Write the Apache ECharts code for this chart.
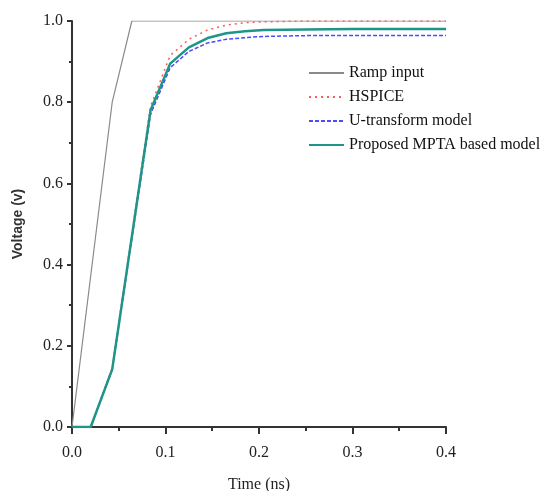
<!DOCTYPE html>
<html>
<head>
<meta charset="utf-8">
<script src="https://cdn.jsdelivr.net/npm/echarts@6/dist/echarts.min.js"></script>
<style>html,body{margin:0;padding:0;background:#fff}#c{width:541px;height:491px}</style>
</head>
<body>
<div id="c"></div>
<script>
var timeNs = [0, 0.02, 0.043, 0.084, 0.105, 0.125, 0.145, 0.165, 0.185, 0.205, 0.25, 0.3, 0.35, 0.4];
var rampTime = [0, 0.043, 0.064, 0.4];
var rampInput = [0, 0.8, 1.0, 1.0];
var hspice = [0, 0, 0.145, 0.79, 0.915, 0.955, 0.978, 0.99, 0.996, 0.998, 1.0, 1.0, 1.0, 1.0];
var uTransform = [0, 0, 0.142, 0.77, 0.885, 0.925, 0.946, 0.955, 0.959, 0.962, 0.964, 0.964, 0.964, 0.964];
var proposed = [0, 0, 0.142, 0.78, 0.895, 0.935, 0.958, 0.970, 0.975, 0.978, 0.979, 0.98, 0.98, 0.98];
var seriesNames = ['Ramp input', 'HSPICE', 'U-transform model', 'Proposed MPTA based model'];

function pairs(xs, ys) { return xs.map(function (x, i) { return [x, ys[i]]; }); }

var chart = echarts.init(document.getElementById('c'), null, { renderer: 'canvas' });
var axisLine = { show: true, lineStyle: { color: '#333', width: 2 } };
var serif = '"Liberation Serif", "Times New Roman", serif';
chart.setOption({
  animation: false,
  backgroundColor: '#fff',
  grid: { left: 72, right: 95, top: 21, bottom: 64, containLabel: false, outerBoundsMode: 'none' },
  legend: {
    orient: 'vertical', left: 303, top: 60, itemWidth: 35, itemHeight: 14, itemGap: 8,
    itemStyle: { opacity: 0 },
    textStyle: { fontFamily: serif, fontSize: 16, lineHeight: 14, color: '#111' },
    data: seriesNames
  },
  xAxis: {
    type: 'value', min: 0, max: 0.4, interval: 0.1,
    name: 'Time (ns)', nameLocation: 'middle', nameGap: 50,
    nameTextStyle: { fontFamily: serif, fontSize: 16, color: '#222', verticalAlign: 'top' },
    axisLine: axisLine,
    axisTick: { show: true, inside: false, length: 7, lineStyle: { color: '#333', width: 2 } },
    minorTick: { show: true, splitNumber: 2, length: 4, lineStyle: { color: '#333', width: 2 } },
    splitLine: { show: false },
    axisLabel: { fontFamily: serif, fontSize: 16, color: '#222', margin: 18, formatter: function (v) { return v.toFixed(1); } }
  },
  yAxis: {
    type: 'value', min: 0, max: 1, interval: 0.2,
    name: 'Voltage (v)', nameLocation: 'middle', nameGap: 47,
    nameTextStyle: { fontFamily: '"Liberation Sans", Arial, sans-serif', fontSize: 14, fontWeight: 'bold', color: '#333' },
    axisLine: axisLine,
    axisTick: { show: true, inside: false, length: 5, lineStyle: { color: '#333', width: 2 } },
    minorTick: { show: true, splitNumber: 2, length: 3, lineStyle: { color: '#333', width: 2 } },
    splitLine: { show: false },
    axisLabel: { fontFamily: serif, fontSize: 16, color: '#222', margin: 9, formatter: function (v) { return v.toFixed(1); } }
  },
  series: [
    { name: seriesNames[0], type: 'line', symbol: 'none', data: pairs(rampTime, rampInput),
      lineStyle: { color: '#8a8a8a', width: 1.2 }, itemStyle: { color: '#8a8a8a' }, z: 1 },
    { name: seriesNames[1], type: 'line', symbol: 'none', data: pairs(timeNs, hspice),
      lineStyle: { color: '#ff5a5a', width: 1.5, type: [2, 4] }, itemStyle: { color: '#ff5a5a' }, z: 2 },
    { name: seriesNames[2], type: 'line', symbol: 'none', data: pairs(timeNs, uTransform),
      lineStyle: { color: '#4a4aff', width: 1.5, type: [4, 2] }, itemStyle: { color: '#4a4aff' }, z: 3 },
    { name: seriesNames[3], type: 'line', symbol: 'none', data: pairs(timeNs, proposed),
      lineStyle: { color: '#1f9488', width: 2.5 }, itemStyle: { color: '#1f9488' }, z: 4 }
  ]
});
</script>
</body>
</html>
